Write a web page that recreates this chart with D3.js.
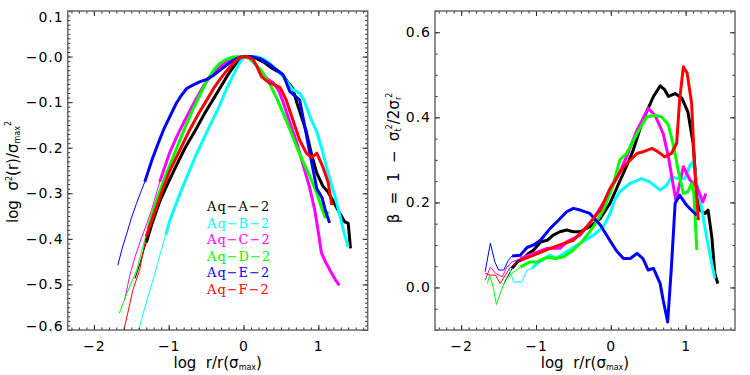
<!DOCTYPE html>
<html>
<head>
<meta charset="utf-8">
<script src="https://cdn.jsdelivr.net/npm/d3@7"></script>
<style>
body { margin: 0; background: #fff; }
</style>
</head>
<body>
<script>
// ---- data ----
var haloLabels = ["Aq\u2212A\u22122", "Aq\u2212B\u22122", "Aq\u2212C\u22122", "Aq\u2212D\u22122", "Aq\u2212E\u22122", "Aq\u2212F\u22122"];
// log r/r(sigma_max) where each curve turns from thin to thick
var convRadius = [-1.33, -1.05, -1.22, -1.28, -1.32, -1.32];

var xTickValues = [-2, -1, 0, 1];
var xTickLabels = ["\u22122", "\u22121", "0", "1"];
var sigmaTickValues = [0.1, 0, -0.1, -0.2, -0.3, -0.4, -0.5, -0.6];
var sigmaTickLabels = ["0.1", "\u22120.0", "\u22120.1", "\u22120.2", "\u22120.3", "\u22120.4", "\u22120.5", "\u22120.6"];
var betaTickValues = [0, 0.2, 0.4, 0.6];
var betaTickLabels = ["0.0", "0.2", "0.4", "0.6"];

// log sigma^2(r)/sigma_max^2 against log r/r(sigma_max)
var sigmaA = [[-1.45,-0.487],[-1.38,-0.452],[-1.30,-0.408],[-1.22,-0.365],[-1.12,-0.318],[-1.03,-0.285],[-0.90,-0.240],[-0.78,-0.200],[-0.63,-0.158],[-0.52,-0.125],[-0.41,-0.095],[-0.30,-0.065],[-0.20,-0.038],[-0.09,-0.013],[0,0],[0.08,0.0],[0.17,-0.004],[0.27,-0.012],[0.35,-0.022],[0.45,-0.032],[0.53,-0.042],[0.60,-0.058],[0.66,-0.070],[0.71,-0.100],[0.78,-0.135],[0.84,-0.165],[0.91,-0.215],[0.98,-0.256],[1.06,-0.284],[1.13,-0.297],[1.20,-0.318],[1.29,-0.345],[1.35,-0.362],[1.40,-0.366],[1.43,-0.421]];
var sigmaB = [[-1.42,-0.61],[-1.30,-0.54],[-1.21,-0.49],[-1.10,-0.425],[-1.04,-0.392],[-0.99,-0.362],[-0.87,-0.31],[-0.76,-0.265],[-0.65,-0.222],[-0.54,-0.183],[-0.43,-0.145],[-0.32,-0.108],[-0.23,-0.072],[-0.14,-0.042],[-0.06,-0.016],[0,-0.002],[0.08,0.0],[0.17,0.0],[0.26,-0.005],[0.35,-0.015],[0.45,-0.03],[0.53,-0.044],[0.60,-0.06],[0.66,-0.073],[0.75,-0.08],[0.80,-0.092],[0.84,-0.11],[0.91,-0.14],[0.98,-0.165],[1.06,-0.21],[1.13,-0.255],[1.22,-0.305],[1.29,-0.35],[1.35,-0.39],[1.40,-0.418]];
var sigmaC = [[-1.59,-0.535],[-1.52,-0.48],[-1.45,-0.44],[-1.38,-0.405],[-1.30,-0.37],[-1.23,-0.337],[-1.12,-0.275],[-0.99,-0.212],[-0.87,-0.168],[-0.76,-0.132],[-0.65,-0.098],[-0.54,-0.066],[-0.45,-0.045],[-0.36,-0.029],[-0.27,-0.017],[-0.18,-0.007],[-0.09,-0.002],[0,0],[0.08,-0.004],[0.15,-0.015],[0.22,-0.029],[0.31,-0.048],[0.40,-0.058],[0.47,-0.075],[0.53,-0.10],[0.60,-0.135],[0.71,-0.188],[0.80,-0.24],[0.88,-0.285],[0.95,-0.335],[1.00,-0.385],[1.04,-0.43],[1.10,-0.452],[1.18,-0.476],[1.23,-0.49],[1.28,-0.502]];
var sigmaD = [[-1.66,-0.563],[-1.56,-0.52],[-1.43,-0.47],[-1.35,-0.42],[-1.28,-0.378],[-1.16,-0.315],[-1.05,-0.265],[-0.94,-0.22],[-0.83,-0.175],[-0.72,-0.132],[-0.60,-0.09],[-0.49,-0.053],[-0.40,-0.03],[-0.32,-0.015],[-0.23,-0.006],[-0.14,-0.001],[0,0],[0.08,-0.004],[0.17,-0.018],[0.26,-0.036],[0.35,-0.06],[0.44,-0.09],[0.53,-0.124],[0.62,-0.16],[0.71,-0.198],[0.80,-0.232],[0.89,-0.264],[0.98,-0.30],[1.04,-0.33],[1.09,-0.352],[1.13,-0.34]];
var sigmaE = [[-1.68,-0.458],[-1.62,-0.42],[-1.56,-0.388],[-1.50,-0.355],[-1.43,-0.322],[-1.38,-0.30],[-1.32,-0.275],[-1.22,-0.225],[-1.14,-0.19],[-1.07,-0.161],[-0.98,-0.13],[-0.90,-0.103],[-0.83,-0.085],[-0.76,-0.07],[-0.67,-0.062],[-0.58,-0.055],[-0.49,-0.05],[-0.41,-0.042],[-0.30,-0.028],[-0.18,-0.013],[-0.09,-0.004],[0,0],[0.10,0.0],[0.22,-0.004],[0.33,-0.015],[0.44,-0.029],[0.53,-0.04],[0.62,-0.077],[0.70,-0.088],[0.75,-0.095],[0.82,-0.154],[0.89,-0.215],[0.98,-0.29],[1.05,-0.31],[1.09,-0.335],[1.15,-0.365]];
var sigmaF = [[-1.62,-0.615],[-1.55,-0.565],[-1.48,-0.513],[-1.39,-0.469],[-1.30,-0.395],[-1.21,-0.352],[-1.10,-0.30],[-0.99,-0.252],[-0.85,-0.205],[-0.72,-0.161],[-0.60,-0.125],[-0.49,-0.095],[-0.40,-0.07],[-0.32,-0.051],[-0.23,-0.032],[-0.14,-0.015],[-0.06,-0.004],[0,0],[0.06,-0.001],[0.13,-0.007],[0.18,-0.022],[0.24,-0.044],[0.30,-0.052],[0.35,-0.058],[0.42,-0.062],[0.49,-0.068],[0.57,-0.095],[0.66,-0.139],[0.75,-0.183],[0.84,-0.212],[0.91,-0.222],[0.98,-0.212],[1.06,-0.242],[1.13,-0.275],[1.18,-0.326]];

// anisotropy beta against log r/r(sigma_max)
var betaA = [[-1.43,0.008],[-1.38,0.025],[-1.32,0.045],[-1.25,0.06],[-1.17,0.068],[-1.10,0.08],[-1.03,0.088],[-0.94,0.107],[-0.85,0.111],[-0.77,0.123],[-0.68,0.131],[-0.59,0.135],[-0.50,0.131],[-0.41,0.131],[-0.28,0.143],[-0.14,0.162],[-0.01,0.198],[0.12,0.25],[0.21,0.285],[0.30,0.323],[0.43,0.394],[0.57,0.449],[0.66,0.474],[0.72,0.465],[0.77,0.449],[0.86,0.456],[0.95,0.445],[1.03,0.413],[1.10,0.339],[1.15,0.221],[1.19,0.182],[1.26,0.174],[1.30,0.182],[1.35,0.119],[1.39,0.033],[1.43,0.009]];
var betaB = [[-1.37,0.052],[-1.30,0.013],[-1.19,0.013],[-1.12,0.041],[-1.05,0.045],[-0.99,0.056],[-0.85,0.072],[-0.81,0.076],[-0.74,0.068],[-0.59,0.084],[-0.41,0.104],[-0.23,0.123],[-0.10,0.143],[-0.01,0.174],[0.05,0.205],[0.12,0.225],[0.26,0.245],[0.41,0.256],[0.52,0.248],[0.66,0.229],[0.75,0.241],[0.81,0.26],[0.90,0.256],[0.99,0.256],[1.06,0.288],[1.10,0.296],[1.15,0.245],[1.21,0.19],[1.28,0.119],[1.35,0.056],[1.39,0.021]];
var betaC = [[-1.68,0.017],[-1.61,0.048],[-1.54,0.033],[-1.45,0.025],[-1.39,0.048],[-1.32,0.06],[-1.21,0.068],[-1.03,0.08],[-0.85,0.092],[-0.68,0.092],[-0.59,0.107],[-0.41,0.123],[-0.23,0.162],[-0.05,0.213],[0.12,0.272],[0.21,0.307],[0.35,0.37],[0.50,0.421],[0.59,0.405],[0.70,0.362],[0.77,0.307],[0.83,0.245],[0.87,0.205],[0.97,0.284],[1.06,0.252],[1.15,0.237],[1.23,0.201],[1.27,0.221]];
var betaD = [[-1.65,0.009],[-1.62,0.029],[-1.57,0.0],[-1.53,-0.04],[-1.47,-0.01],[-1.41,0.017],[-1.32,0.033],[-1.21,0.048],[-1.08,0.06],[-0.99,0.06],[-0.85,0.071],[-0.74,0.068],[-0.63,0.072],[-0.50,0.088],[-0.37,0.111],[-0.23,0.143],[-0.10,0.182],[0.03,0.24],[0.12,0.30],[0.21,0.315],[0.35,0.362],[0.48,0.401],[0.59,0.405],[0.68,0.401],[0.77,0.382],[0.83,0.339],[0.90,0.276],[0.97,0.221],[1.03,0.225],[1.08,0.245],[1.11,0.221],[1.15,0.088]];
var betaE = [[-1.68,0.037],[-1.61,0.104],[-1.55,0.06],[-1.50,0.041],[-1.43,0.041],[-1.37,0.064],[-1.32,0.074],[-1.21,0.076],[-1.12,0.094],[-1.03,0.10],[-0.94,0.111],[-0.81,0.139],[-0.70,0.158],[-0.59,0.178],[-0.50,0.186],[-0.41,0.182],[-0.28,0.174],[-0.14,0.147],[-0.01,0.11],[0.08,0.085],[0.17,0.068],[0.26,0.068],[0.35,0.08],[0.43,0.068],[0.50,0.041],[0.57,0.045],[0.66,0.009],[0.70,-0.03],[0.76,-0.081],[0.81,0.048],[0.86,0.198],[0.92,0.217],[1.01,0.194],[1.10,0.178],[1.15,0.17]];
var betaF = [[-1.68,0.033],[-1.61,0.029],[-1.54,0.029],[-1.48,0.009],[-1.41,0.029],[-1.34,0.048],[-1.21,0.064],[-1.03,0.076],[-0.85,0.089],[-0.68,0.10],[-0.50,0.111],[-0.32,0.143],[-0.14,0.182],[-0.01,0.233],[0.17,0.284],[0.35,0.315],[0.43,0.319],[0.55,0.327],[0.63,0.319],[0.72,0.307],[0.81,0.315],[0.88,0.339],[0.92,0.441],[0.97,0.519],[1.02,0.504],[1.08,0.433],[1.12,0.284],[1.17,0.158]];

// ---- layout / style ----
var width = 750, height = 375;
var plotTop = 11, plotBottom = 330;
var xDomain = [-2.35, 1.66];
var colors = ["#000000", "#00ffff", "#ff00ff", "#00ff00", "#0000ff", "#ff0000"];
var tickColor = "#222";
var sansFont = "DejaVu Sans, sans-serif";

var svg = d3.select("body").append("svg")
    .attr("width", width)
    .attr("height", height);

function splitAt(pts, c) {
    var k = pts.findIndex(function(p) { return p[0] >= c; });
    if (k < 0) k = pts.length - 1;
    return [pts.slice(0, k + 1), pts.slice(k)];
}

function drawPanel(opt) {
    var x = d3.scaleLinear().domain(xDomain).range([opt.left, opt.right]);
    var y = d3.scaleLinear().domain(opt.yDomain).range([plotBottom, plotTop]);
    var g = svg.append("g");

    svg.append("clipPath").attr("id", "clip" + opt.id)
        .append("rect")
        .attr("x", opt.left).attr("y", plotTop)
        .attr("width", opt.right - opt.left).attr("height", plotBottom - plotTop);

    var line = d3.line()
        .x(function(d) { return x(d[0]); })
        .y(function(d) { return y(d[1]); });

    var curves = g.append("g").attr("clip-path", "url(#clip" + opt.id + ")");
    opt.series.forEach(function(s, i) {
        var parts = splitAt(s, convRadius[i]);
        curves.append("path")
            .attr("d", line(parts[0]))
            .attr("fill", "none")
            .attr("stroke", colors[i])
            .attr("stroke-width", 1);
        curves.append("path")
            .attr("d", line(parts[1]))
            .attr("fill", "none")
            .attr("stroke", colors[i])
            .attr("stroke-width", 3)
            .attr("stroke-linejoin", "round");
    });

    var w = opt.right - opt.left;
    function axis(gen, tx, ty, values, size, labels, pad) {
        var a = g.append("g")
            .attr("transform", "translate(" + tx + "," + ty + ")")
            .call(gen.tickValues(values).tickSize(size).tickPadding(pad || 0)
                .tickFormat(function(d, i) { return labels ? labels[i] : ""; }));
        a.select(".domain").remove();
        a.selectAll("line").attr("stroke", tickColor);
        a.selectAll("text")
            .style("font-family", sansFont)
            .style("font-size", "14px")
            .attr("letter-spacing", 1)
            .attr("fill", "#000");
        return a;
    }
    var xMinor = d3.range(-23, 17).map(function(i) { return i / 10; });
    axis(d3.axisBottom(x), 0, plotBottom, xTickValues, -5, xTickLabels, 11);
    axis(d3.axisBottom(x), 0, plotBottom, xMinor, -2.5);
    axis(d3.axisTop(x), 0, plotTop, xTickValues, -5);
    axis(d3.axisTop(x), 0, plotTop, xMinor, -2.5);

    var yl = axis(d3.axisLeft(y), opt.left, 0, opt.yTicks, -5, opt.yLabels, 4);
    // keep end labels inside the box, as the original does
    yl.selectAll("text").attr("y", function(d) {
        var p = y(d);
        if (p < plotTop + 5) return 5.6;
        if (p > plotBottom - 4) return -4.3;
        return 0;
    });
    axis(d3.axisLeft(y), opt.left, 0, opt.yMinor, -2.5);
    axis(d3.axisRight(y), opt.right, 0, opt.yTicks, -5);
    axis(d3.axisRight(y), opt.right, 0, opt.yMinor, -2.5);

    g.append("rect")
        .attr("x", opt.left).attr("y", plotTop)
        .attr("width", w).attr("height", plotBottom - plotTop)
        .attr("fill", "none")
        .attr("stroke", "#6a6a6a")
        .attr("stroke-width", 1.5);

    // x title: log r/r(sigma_max)
    var xt = g.append("text")
        .attr("x", (opt.left + opt.right) / 2)
        .attr("y", 368)
        .attr("text-anchor", "middle")
        .style("font-family", sansFont)
        .style("font-size", "15px")
        .style("white-space", "pre");
    xt.append("tspan").text("log  r/r(\u03c3");
    xt.append("tspan").style("font-size", "8px").attr("dy", 2).text("max");
    xt.append("tspan").attr("dy", -2).text(")");
    return g;
}

drawPanel({
    id: "a", left: 67.7, right: 367.7,
    yDomain: [-0.6, 0.1],
    yTicks: sigmaTickValues, yLabels: sigmaTickLabels,
    yMinor: d3.range(-60, 11).map(function(i) { return i / 100; }),
    series: [sigmaA, sigmaB, sigmaC, sigmaD, sigmaE, sigmaF]
});

drawPanel({
    id: "b", left: 435, right: 735,
    yDomain: [-0.1, 0.65],
    yTicks: betaTickValues, yLabels: betaTickLabels,
    yMinor: d3.range(-2, 14).map(function(i) { return i * 0.05; }),
    series: [betaA, betaB, betaC, betaD, betaE, betaF]
});

// left y title: log sigma^2(r)/sigma_max^2
var lt = svg.append("text")
    .attr("transform", "translate(18,172) rotate(-90)")
    .attr("text-anchor", "middle")
    .style("font-family", sansFont)
    .style("font-size", "15px")
    .style("white-space", "pre");
lt.append("tspan").text("log  \u03c3");
lt.append("tspan").style("font-size", "8px").attr("dy", -6).text("2");
lt.append("tspan").attr("dy", 6).text("(r)/\u03c3");
lt.append("tspan").style("font-size", "8px").attr("dy", 2).text("max");
lt.append("tspan").style("font-size", "8px").attr("dy", -9).text("2");
lt.append("tspan").attr("dy", 7).text("");

// right y title: beta = 1 - sigma_t^2/2 sigma_r^2
var rt = svg.append("text")
    .attr("transform", "translate(399,158) rotate(-90)")
    .attr("text-anchor", "middle")
    .style("font-family", sansFont)
    .style("font-size", "15px")
    .style("white-space", "pre");
rt.append("tspan").text("\u03b2  =  1  \u2212  \u03c3");
rt.append("tspan").style("font-size", "8px").attr("dy", 2).text("t");
rt.append("tspan").style("font-size", "8px").attr("dy", -9).attr("dx", -1).text("2");
rt.append("tspan").attr("dy", 7).text("/2\u03c3");
rt.append("tspan").style("font-size", "8px").attr("dy", 2).text("r");
rt.append("tspan").style("font-size", "8px").attr("dy", -9).attr("dx", -1).text("2");
rt.append("tspan").attr("dy", 7).text("");

// legend
svg.selectAll(".legend")
    .data(haloLabels)
    .enter().append("text")
    .attr("class", "legend")
    .attr("x", 207)
    .attr("y", function(d, i) { return 211 + i * 16.5; })
    .style("font-family", "DejaVu Serif, serif")
    .style("font-size", "13px")
    .attr("letter-spacing", 1)
    .attr("fill", function(d, i) { return colors[i]; })
    .text(function(d) { return d; });
</script>
</body>
</html>
